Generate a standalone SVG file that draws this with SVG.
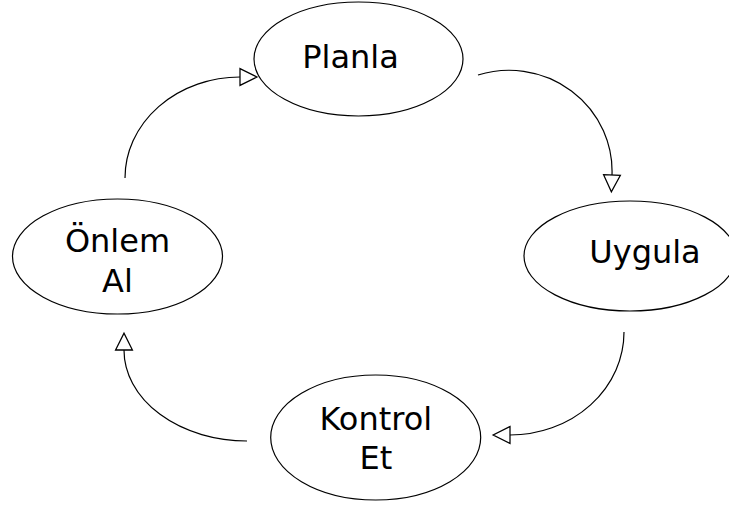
<svg xmlns="http://www.w3.org/2000/svg" width="729" height="506" viewBox="0 0 729 506">
<style>
.node ellipse{fill:#fff;stroke:#000;stroke-width:1.2}
.node text{font-family:"DejaVu Sans",Verdana,sans-serif;font-size:32px;fill:#000;text-anchor:middle}
.conn path{fill:none;stroke:#000;stroke-width:1.2}
</style>
<defs>
<marker id="arr" markerUnits="userSpaceOnUse" markerWidth="20" markerHeight="20" viewBox="-1 -1 19 18" refX="0" refY="8" orient="auto">
<path d="M0,0 L16,8 L0,16 Z" fill="#fff" stroke="#000" stroke-width="1.2"/>
</marker>
</defs>
<rect width="729" height="506" fill="#fff"/>
<g class="conn" id="connectors">
<path d="M125,178 A115,101 0 0 1 240,77" marker-end="url(#arr)"/>
<path d="M478,75 A103,101 0 0 1 612,175" marker-end="url(#arr)"/>
<path d="M624,332 A114,103 0 0 1 510,435" marker-end="url(#arr)"/>
<path d="M247,441 A123,91 0 0 1 124,350" marker-end="url(#arr)"/>
</g>
<g class="node" id="planla">
<ellipse cx="358.5" cy="59" rx="104.5" ry="57"/>
<text x="350.5" y="68">Planla</text>
</g>
<g class="node" id="uygula">
<ellipse cx="630" cy="256" rx="106" ry="55"/>
<text x="645" y="263">Uygula</text>
</g>
<g class="node" id="kontrol">
<ellipse cx="375.7" cy="437.5" rx="105" ry="62.5"/>
<text x="375.8" y="430">Kontrol</text>
<text x="375.8" y="469">Et</text>
</g>
<g class="node" id="onlem">
<ellipse cx="117.5" cy="256.5" rx="105" ry="57.5"/>
<text x="117.5" y="251.7">Önlem</text>
<text x="117.5" y="291.7">Al</text>
</g>
</svg>
